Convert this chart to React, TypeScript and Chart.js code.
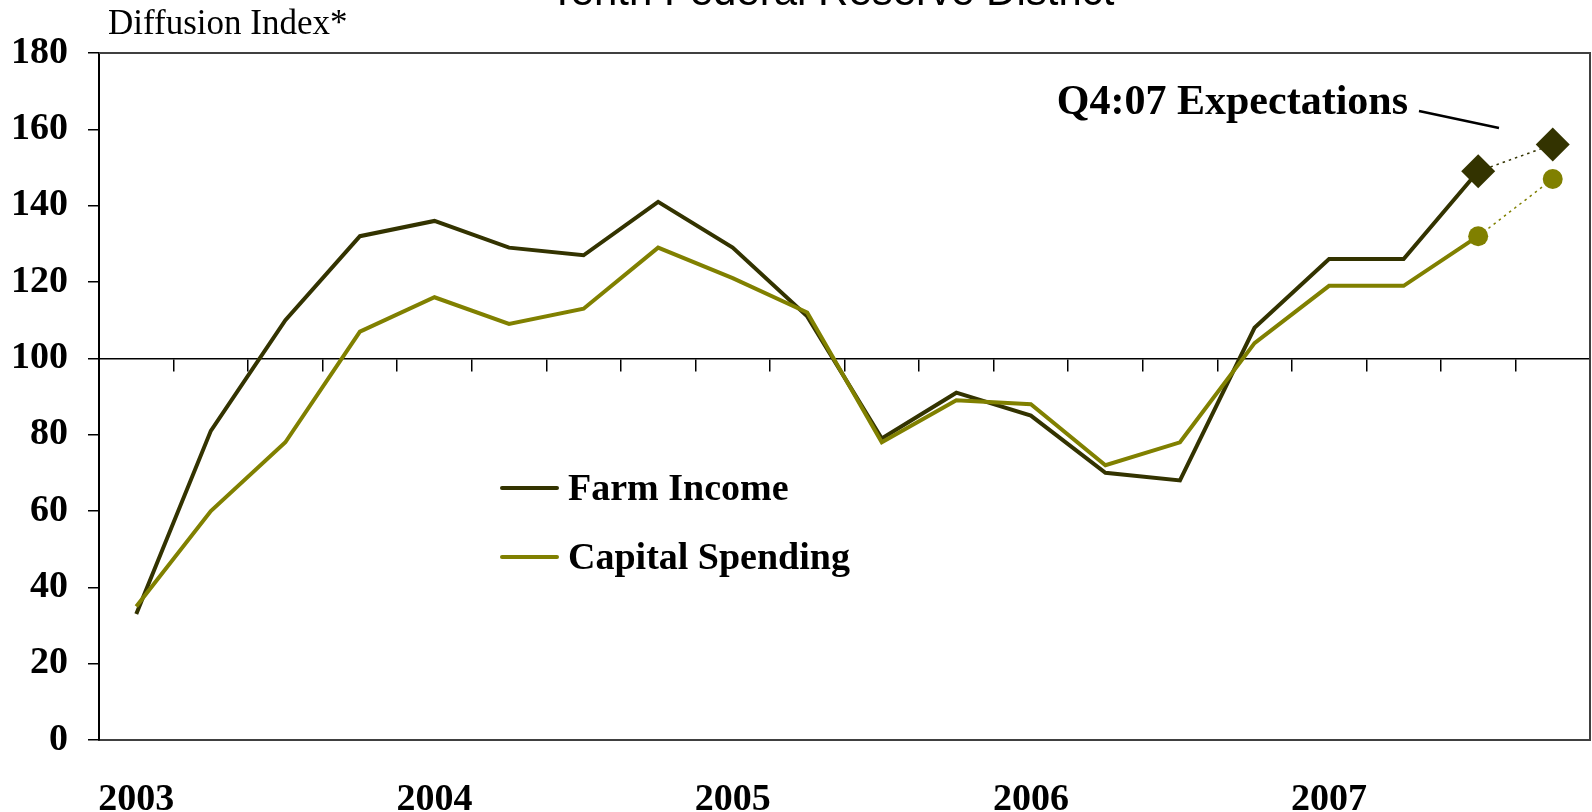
import React, { useEffect, useRef } from "react";
import { Chart, registerables } from "chart.js";

Chart.register(...registerables);

const quarters = [
  "Q1 2003", "Q2 2003", "Q3 2003", "Q4 2003",
  "Q1 2004", "Q2 2004", "Q3 2004", "Q4 2004",
  "Q1 2005", "Q2 2005", "Q3 2005", "Q4 2005",
  "Q1 2006", "Q2 2006", "Q3 2006", "Q4 2006",
  "Q1 2007", "Q2 2007", "Q3 2007", "Q4 2007",
];
const yearLabels = ["2003", "2004", "2005", "2006", "2007"];

const farmIncome = [33, 81, 110, 132, 136, 129, 127, 141, 129, 111, 79, 91, 85, 70, 68, 108, 126, 126, 149, 156];
const capitalSpending = [35, 60, 78, 107, 116, 109, 113, 129, 121, 112, 78, 89, 88, 72, 78, 104, 119, 119, 132, 147];

const yTicks = [0, 20, 40, 60, 80, 100, 120, 140, 160, 180];

const seriesNames = ["Farm Income", "Capital Spending"];
const colors = ["#333300", "#808000"];

const title = "Tenth Federal Reserve District";
const yAxisTitle = "Diffusion Index*";
const expectationsLabel = "Q4:07 Expectations";

const SERIF = '"Liberation Serif", "Times New Roman", serif';
const SANS = '"Liberation Sans", Arial, sans-serif';

export default function App() {
  const canvasRef = useRef<HTMLCanvasElement | null>(null);

  useEffect(() => {
    const canvas = canvasRef.current;
    if (!canvas) return;
    const lastRealIndex = quarters.length - 2; // last actual quarter
    const forecastIndex = quarters.length - 1; // expectation

    const markerRadius = (r: number) => (ctx: any) => (ctx.dataIndex >= lastRealIndex ? r : 0);
    const dotted = (ctx: any) => (ctx.p1DataIndex === forecastIndex ? [2.5, 4] : undefined);
    const thin = (ctx: any) => (ctx.p1DataIndex === forecastIndex ? 1.5 : undefined);

    const frame = {
      id: "frame",
      beforeDatasetsDraw(chart: any) {
        const { left, right, top, bottom } = chart.chartArea;
        const c = chart.ctx;
        c.save();
        c.strokeStyle = "#404040";
        c.lineWidth = 2;
        c.beginPath();
        c.moveTo(left, top);
        c.lineTo(right, top);
        c.lineTo(right, bottom);
        c.stroke();
        c.restore();
      },
    };

    const overlay = {
      id: "overlay",
      afterDraw(chart: any) {
        const c = chart.ctx;
        c.save();
        // cut-off title
        c.fillStyle = "#000";
        c.font = `42px ${SANS}`;
        c.textAlign = "center";
        c.textBaseline = "alphabetic";
        c.fillText(title, 832, 5);
        // y-axis title
        c.font = `35px ${SERIF}`;
        c.textAlign = "left";
        c.fillText(yAxisTitle, 108, 34);
        // expectations annotation
        c.font = `bold 42px ${SERIF}`;
        c.textAlign = "right";
        c.fillText(expectationsLabel, 1408, 114);
        c.strokeStyle = "#000";
        c.lineWidth = 2.5;
        c.beginPath();
        c.moveTo(1419, 111);
        c.lineTo(1499, 128);
        c.stroke();
        // legend
        const rows = [488, 557];
        chart.data.datasets.forEach((ds: any, i: number) => {
          const y = rows[i];
          c.strokeStyle = ds.borderColor;
          c.lineWidth = 4;
          c.lineCap = "round";
          c.beginPath();
          c.moveTo(502, y);
          c.lineTo(557, y);
          c.stroke();
          c.fillStyle = "#000";
          c.font = `bold 38px ${SERIF}`;
          c.textAlign = "left";
          c.textBaseline = "alphabetic";
          c.fillText(ds.label, 568, y + 12);
        });
        c.restore();
      },
    };

    const chart = new Chart(canvas, {
      type: "line",
      data: {
        labels: quarters,
        datasets: [
          {
            label: seriesNames[0],
            data: farmIncome,
            borderColor: colors[0],
            backgroundColor: colors[0],
            borderWidth: 4,
            tension: 0,
            pointStyle: "rectRot",
            pointRadius: markerRadius(17),
            pointBorderWidth: 0,
            pointBackgroundColor: colors[0],
            order: 1,
            clip: 20,
            segment: { borderDash: dotted, borderWidth: thin },
          } as any,
          {
            label: seriesNames[1],
            data: capitalSpending,
            borderColor: colors[1],
            backgroundColor: colors[1],
            borderWidth: 4,
            tension: 0,
            pointStyle: "circle",
            pointRadius: markerRadius(10),
            pointBorderWidth: 0,
            pointBackgroundColor: colors[1],
            order: 0,
            clip: 20,
            segment: { borderDash: dotted, borderWidth: thin },
          } as any,
        ],
      },
      options: {
        animation: false,
        responsive: false,
        devicePixelRatio: 1,
        layout: { autoPadding: false, padding: { top: 53, right: 2, left: 0, bottom: 0 } },
        plugins: {
          legend: { display: false },
          tooltip: { enabled: false },
          title: { display: false },
        },
        scales: {
          x: {
            type: "category",
            position: "bottom",
            offset: true,
            grid: { display: false, drawTicks: false },
            border: { display: true, color: "#404040", width: 2 },
            ticks: {
              autoSkip: false,
              maxRotation: 0,
              minRotation: 0,
              padding: 37,
              color: "#000",
              font: { family: SERIF, size: 38, weight: "bold" },
              callback: (_v: any, i: number) => (i % 4 === 0 ? yearLabels[i / 4] : ""),
            },
            afterFit: (s: any) => {
              s.height = 72;
              s.paddingLeft = 0;
              s.paddingRight = 0;
            },
          },
          xMid: {
            type: "category",
            position: { y: 100 } as any,
            offset: true,
            grid: {
              display: true,
              offset: true,
              drawOnChartArea: false,
              drawTicks: true,
              tickLength: 12,
              color: "#000",
              lineWidth: 1.5,
            },
            border: { display: true, color: "#000", width: 1.5 },
            ticks: { display: false },
            afterFit: (s: any) => {
              s.paddingLeft = 0;
              s.paddingRight = 0;
            },
          },
          y: {
            type: "linear",
            position: "left",
            min: yTicks[0],
            max: yTicks[yTicks.length - 1],
            afterBuildTicks: (s: any) => {
              s.ticks = yTicks.map((v) => ({ value: v }));
            },
            grid: {
              drawOnChartArea: false,
              drawTicks: true,
              tickLength: 11,
              color: "#000",
              lineWidth: 1.5,
            },
            border: { display: true, color: "#000", width: 2 },
            ticks: {
              padding: 20,
              color: "#000",
              font: { family: SERIF, size: 38, weight: "bold" },
            },
            afterFit: (s: any) => {
              s.width = 99;
            },
          },
        },
      },
      plugins: [frame, overlay],
    } as any);

    return () => chart.destroy();
  }, []);

  return (
    <div style={{ position: "fixed", left: 0, top: 0, width: 1592, height: 812, background: "#fff" }}>
      <canvas ref={canvasRef} width={1592} height={812} style={{ display: "block", width: 1592, height: 812 }} />
    </div>
  );
}
